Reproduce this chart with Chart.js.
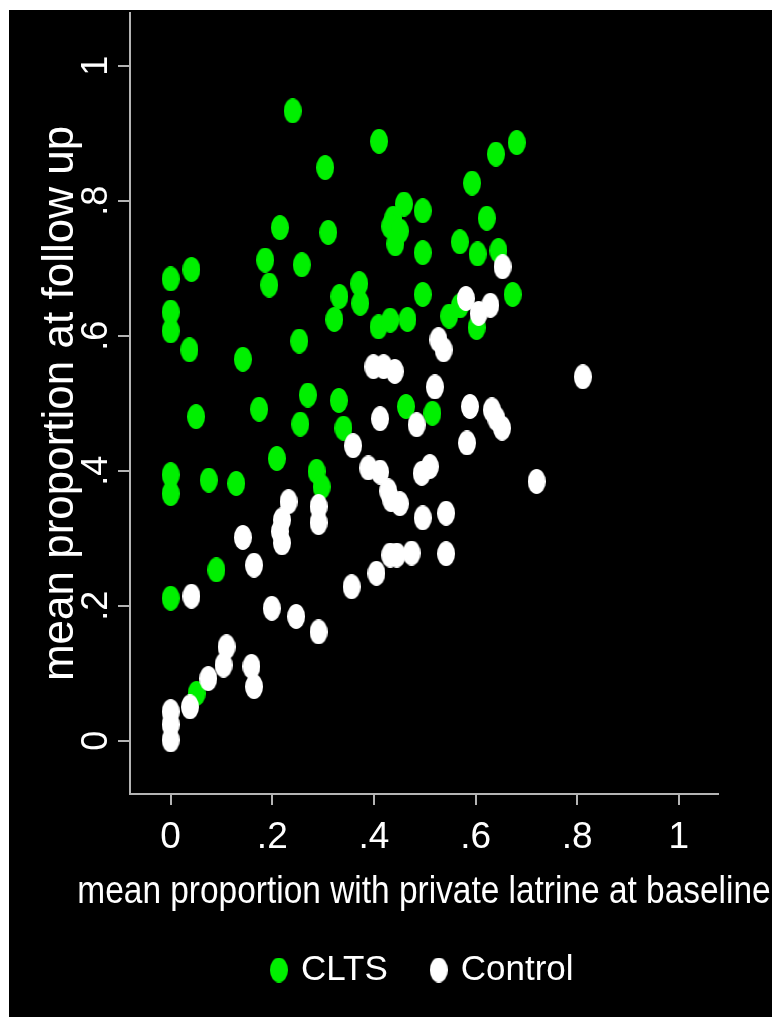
<!DOCTYPE html>
<html lang="en">
<head>
    <meta charset="UTF-8">
    <title>Latrine ownership: baseline vs follow up</title>
    <style>
        body {
            margin: 0;
            background-color: #fff;
        }
        .frame {
            position: absolute;
            left: 9px;
            top: 10px;
            width: 763px;
            height: 1007px;
            background-color: #000;
        }
        canvas {
            display: block;
        }
    </style>
</head>
<body>
    <div class="frame">
        <canvas id="chart" width="763" height="1007"></canvas>
    </div>

    <script src="https://cdn.jsdelivr.net/npm/chart.js"></script>

    <script>
        // village means: share with private latrine at baseline (x) and at follow up (y)
        const cltsBaseline = [0.240, 0.410, 0.304, 0.681, 0.640, 0.593, 0.622, 0.459, 0.496, 0.438,
            0.432, 0.451, 0.442, 0.496, 0.569, 0.604, 0.645, 0.496, 0.673, 0.215,
            0.310, 0.186, 0.194, 0.258, 0.000, 0.041, 0.371, 0.332, 0.373, 0.000,
            0.000, 0.037, 0.142, 0.253, 0.322, 0.409, 0.432, 0.466, 0.548, 0.569,
            0.602, 0.463, 0.515, 0.050, 0.174, 0.270, 0.331, 0.255, 0.340, 0.209,
            0.000, 0.000, 0.075, 0.129, 0.287, 0.297, 0.090, 0.000, 0.051];
        const cltsFollowUp = [0.933, 0.888, 0.849, 0.886, 0.869, 0.826, 0.774, 0.795, 0.785, 0.774,
            0.762, 0.755, 0.736, 0.723, 0.739, 0.721, 0.726, 0.661, 0.661, 0.760,
            0.753, 0.712, 0.675, 0.705, 0.684, 0.698, 0.677, 0.658, 0.648, 0.635,
            0.607, 0.579, 0.565, 0.592, 0.624, 0.613, 0.623, 0.624, 0.629, 0.644,
            0.612, 0.495, 0.485, 0.480, 0.491, 0.512, 0.504, 0.469, 0.463, 0.418,
            0.394, 0.366, 0.386, 0.381, 0.399, 0.376, 0.253, 0.211, 0.070];

        const controlBaseline = [0.653, 0.581, 0.606, 0.629, 0.527, 0.537, 0.399, 0.419, 0.441, 0.520,
            0.811, 0.484, 0.412, 0.589, 0.632, 0.641, 0.652, 0.583, 0.510, 0.494,
            0.359, 0.389, 0.412, 0.428, 0.434, 0.451, 0.720, 0.496, 0.542, 0.232,
            0.219, 0.215, 0.219, 0.291, 0.291, 0.142, 0.164, 0.041, 0.199, 0.247,
            0.291, 0.356, 0.405, 0.432, 0.445, 0.474, 0.542, 0.110, 0.104, 0.074,
            0.038, 0.159, 0.164, 0.000, 0.000, 0.000];
        const controlFollowUp = [0.702, 0.655, 0.633, 0.645, 0.594, 0.579, 0.554, 0.554, 0.547, 0.524,
            0.539, 0.468, 0.477, 0.495, 0.490, 0.477, 0.463, 0.441, 0.406, 0.396,
            0.437, 0.404, 0.398, 0.370, 0.357, 0.351, 0.384, 0.330, 0.337, 0.354,
            0.327, 0.310, 0.293, 0.347, 0.323, 0.301, 0.260, 0.214, 0.196, 0.184,
            0.161, 0.228, 0.248, 0.275, 0.275, 0.278, 0.277, 0.139, 0.112, 0.092,
            0.050, 0.110, 0.080, 0.043, 0.024, 0.001];

        const tickValues = [0, 0.2, 0.4, 0.6, 0.8, 1];
        const tickLabels = ['0', '.2', '.4', '.6', '.8', '1'];

        const xTitle = 'mean proportion with private latrine at baseline';
        const yTitle = 'mean proportion at follow up';

        const FONT = '"Liberation Sans", Arial, Helvetica, sans-serif';
        const AXIS_GREY = '#b4b4b4';

        // stata-ish markers come out as tall ovals
        function oval(color) {
            const c = document.createElement('canvas');
            c.width = 18;
            c.height = 25;
            const g = c.getContext('2d');
            g.fillStyle = color;
            g.beginPath();
            g.ellipse(9, 12.5, 9, 12.5, 0, 0, 2 * Math.PI);
            g.fill();
            return c;
        }

        function toPoints(xs, ys) {
            return xs.map((x, i) => ({ x: x, y: ys[i] }));
        }

        function fixedTicks(scale) {
            scale.ticks = tickValues.map(v => ({ value: v }));
        }

        // y tick labels are turned on their side, and the x title is wider
        // than the plot area, so both are written here
        const axisText = {
            id: 'axisText',
            afterDraw(chart) {
                const { ctx, chartArea, scales } = chart;
                ctx.save();
                ctx.fillStyle = '#fff';
                ctx.textAlign = 'center';
                ctx.textBaseline = 'middle';

                ctx.font = '36px ' + FONT;
                tickValues.forEach((v, i) => {
                    ctx.save();
                    ctx.translate(88, scales.y.getPixelForValue(v));
                    ctx.rotate(-Math.PI / 2);
                    ctx.fillText(tickLabels[i], 0, 0);
                    ctx.restore();
                });

                // squeezed a bit, the original text is narrow
                ctx.font = '38px ' + FONT;
                ctx.translate((chartArea.left + chartArea.right) / 2, chartArea.bottom + 99);
                ctx.scale(0.88, 1);
                ctx.fillText(xTitle, 0, 0);
                ctx.restore();
            }
        };

        const ctx = document.getElementById('chart').getContext('2d');

        const chart = new Chart(ctx, {
            type: 'scatter',
            data: {
                datasets: [{
                    label: 'CLTS',
                    data: toPoints(cltsBaseline, cltsFollowUp),
                    pointStyle: oval('#00f000'),
                    pointRadius: 9,
                    order: 1
                }, {
                    label: 'Control',
                    data: toPoints(controlBaseline, controlFollowUp),
                    pointStyle: oval('#ffffff'),
                    pointRadius: 9,
                    order: 0 // white dots sit on top of the green ones
                }]
            },
            options: {
                responsive: false,
                animation: false,
                devicePixelRatio: 1,
                events: [],
                layout: {
                    autoPadding: false,
                    padding: { top: 3, right: 54, bottom: 19.5, left: 0 }
                },
                scales: {
                    x: {
                        type: 'linear',
                        min: -0.08,
                        max: 1.077,
                        afterBuildTicks: fixedTicks,
                        afterFit: scale => { scale.height = 112; },
                        border: { display: true, color: AXIS_GREY, width: 2 },
                        grid: {
                            drawOnChartArea: false,
                            drawTicks: true,
                            tickLength: 11,
                            color: AXIS_GREY,
                            lineWidth: 2
                        },
                        ticks: {
                            autoSkip: false,
                            maxRotation: 0,
                            padding: 11,
                            color: '#fff',
                            font: { family: FONT, size: 37 },
                            callback: (value, index) => tickLabels[index]
                        }
                    },
                    y: {
                        type: 'linear',
                        min: -0.079,
                        max: 1.078,
                        afterBuildTicks: fixedTicks,
                        afterFit: scale => { scale.width = 121; },
                        border: { display: true, color: AXIS_GREY, width: 2 },
                        grid: {
                            drawOnChartArea: false,
                            drawTicks: true,
                            tickLength: 12,
                            color: AXIS_GREY,
                            lineWidth: 2
                        },
                        ticks: { display: false },
                        title: {
                            display: true,
                            text: yTitle,
                            color: '#fff',
                            font: { family: FONT, size: 44 },
                            padding: { top: 25, bottom: 0 }
                        }
                    }
                },
                plugins: {
                    tooltip: { enabled: false },
                    legend: {
                        position: 'bottom',
                        fullSize: false,
                        labels: {
                            usePointStyle: true,
                            pointStyleWidth: 9,
                            padding: 46.5,
                            color: '#fff',
                            font: { family: FONT, size: 35 },
                            sort: (a, b) => a.datasetIndex - b.datasetIndex
                        }
                    }
                }
            },
            plugins: [axisText]
        });
    </script>
</body>
</html>
